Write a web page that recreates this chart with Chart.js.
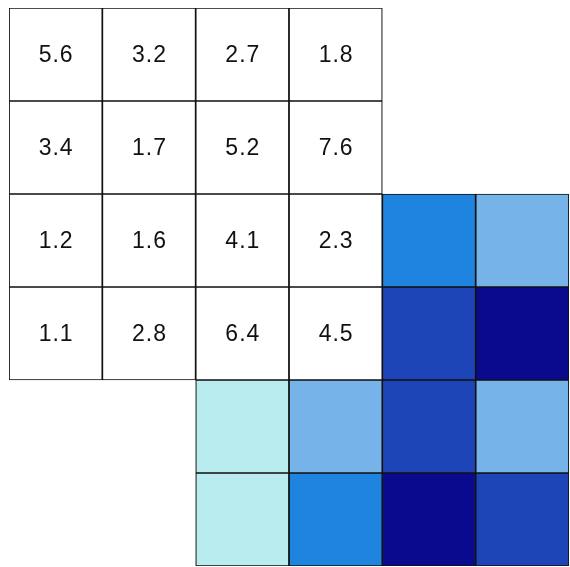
<!DOCTYPE html>
<html>
<head>
<meta charset="utf-8">
<script src="https://cdn.jsdelivr.net/npm/chart.js@4/dist/chart.umd.min.js"></script>
<style>
  html,body{margin:0;padding:0;background:#fff}
  #wrap{width:570px;height:567px}
</style>
</head>
<body>
<div id="wrap"><canvas id="grid" width="570" height="567"></canvas></div>
<script>
// columns of the 6x6 layout
const cols = ['c1','c2','c3','c4','c5','c6'];

// numbered cells (top-left 4x4 block), by row
const values = [
  [5.6, 3.2, 2.7, 1.8],
  [3.4, 1.7, 5.2, 7.6],
  [1.2, 1.6, 4.1, 2.3],
  [1.1, 2.8, 6.4, 4.5]
];

// shaded cells: colour level 1..5 per row (null = empty)
const levels = [
  [null, null, null, null, null, null],
  [null, null, null, null, null, null],
  [null, null, null, null, 3, 2],
  [null, null, null, null, 4, 5],
  [null, null, 1, 2, 4, 2],
  [null, null, 1, 3, 5, 4]
];

const palette = ['#b8ecef', '#75b3e8', '#1f84e0', '#1d45b7', '#0a0a8e'];

function $(id){return document.getElementById(id)}

const datasets = [];
for(let r=0;r<6;r++){
  const data = [], bg = [], txt = [];
  for(let c=0;c<6;c++){
    const v = (values[r] && values[r][c] !== undefined) ? values[r][c] : null;
    const lv = levels[r][c];
    if(v !== null){ data.push([r, r+1]); bg.push('#ffffff'); txt.push(v.toFixed(1)); }
    else if(lv !== null){ data.push([r, r+1]); bg.push(palette[lv-1]); txt.push(''); }
    else { data.push(null); bg.push('rgba(0,0,0,0)'); txt.push(''); }
  }
  datasets.push({ label:'row'+(r+1), data, backgroundColor:bg, borderColor:'#111', borderWidth:1.2, borderSkipped:false, labels:txt });
}

const cellText = {
  id:'cellText',
  afterDatasetsDraw(chart){
    const ctx = chart.ctx;
    ctx.save();
    ctx.font = '23px "Liberation Sans", Arial, sans-serif';
    ctx.letterSpacing = '1px';
    ctx.fillStyle = '#111';
    ctx.textAlign = 'center';
    ctx.textBaseline = 'middle';
    chart.data.datasets.forEach((ds,i)=>{
      chart.getDatasetMeta(i).data.forEach((el,j)=>{
        const t = ds.labels[j];
        if(!t) return;
        ctx.fillText(t, el.x + 0.5, (el.y + el.base)/2 + 1);
      });
    });
    ctx.restore();
  }
};

new Chart($('grid').getContext('2d'), {
  type:'bar',
  data:{ labels:cols, datasets },
  options:{
    responsive:false,
    animation:false,
    grouped:false,
    barPercentage:1,
    categoryPercentage:1,
    layout:{ padding:{ left:9, top:8, right:1, bottom:1 } },
    plugins:{ legend:{display:false}, tooltip:{enabled:false} },
    scales:{
      x:{ display:false, offset:true },
      y:{ display:false, min:0, max:6, reverse:true }
    }
  },
  plugins:[cellText]
});
</script>
</body>
</html>
